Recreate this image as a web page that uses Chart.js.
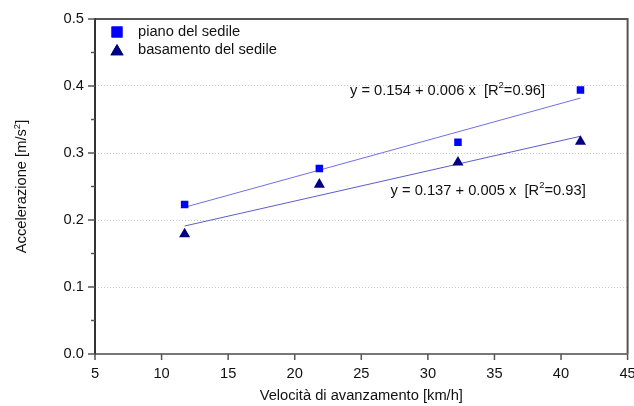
<!DOCTYPE html>
<html><head><meta charset="utf-8">
<script src="https://cdn.jsdelivr.net/npm/chart.js@4/dist/chart.umd.min.js"></script>
<style>html,body{margin:0;padding:0;background:#fff}canvas{display:block}</style>
</head><body>
<canvas id="c" width="634" height="406"></canvas>
<script>
// ---- data ----
const velocita = [11.73, 21.85, 32.26, 41.46];
const pianoSedile = [0.223, 0.277, 0.316, 0.394];
const basamentoSedile = [0.179, 0.253, 0.286, 0.317];
const fitX = [11.73, 41.46];
const fitPiano = [0.219, 0.382];
const fitBasamento = [0.191, 0.325];
const xTicks = [5, 10, 15, 20, 25, 30, 35, 40, 45];
const yTicks = [0.0, 0.1, 0.2, 0.3, 0.4, 0.5];
const seriesLabels = ['piano del sedile', 'basamento del sedile'];
const eqPiano = ['y = 0.154 + 0.006 x  [R', '2', '=0.96]'];
const eqBasamento = ['y = 0.137 + 0.005 x  [R', '2', '=0.93]'];
const xTitle = ['Velocità di avanzamento [km/h]'];
const yTitle = ['Accelerazione [m/s', '2', ']'];

// ---- layout / style ----
const FONT = "'Liberation Sans', Arial, sans-serif";
const FS = 14.7;
const eqAnchors = [{x: 24.15, y: 0.393}, {x: 27.2, y: 0.244}];

const pts = (xs, ys) => xs.map((x, i) => ({x: x, y: ys[i]}));

function drawRich(ctx, parts, x, y, align) {
  const fonts = parts.map((p, i) => (i % 2 === 1) ? '9.5px ' + FONT : FS + 'px ' + FONT);
  let total = 0;
  const widths = parts.map((p, i) => { ctx.font = fonts[i]; const w = ctx.measureText(p).width; total += w; return w; });
  let cx = align === 'center' ? x - total / 2 : x;
  ctx.textAlign = 'left';
  ctx.textBaseline = 'middle';
  parts.forEach((p, i) => {
    ctx.font = fonts[i];
    ctx.fillText(p, cx, (i % 2 === 1) ? y - 5 : y);
    cx += widths[i];
  });
}

const decor = {
  id: 'decor',
  afterDraw(chart) {
    const ctx = chart.ctx;
    const a = chart.chartArea;
    const xs = chart.scales.x, ys = chart.scales.y;
    ctx.save();
    // frame
    ctx.lineWidth = 2;
    ctx.strokeStyle = '#555';
    ctx.beginPath(); ctx.moveTo(a.left, a.top); ctx.lineTo(a.right, a.top); ctx.lineTo(a.right, a.bottom); ctx.stroke();
    ctx.strokeStyle = '#777';
    ctx.beginPath(); ctx.moveTo(a.left, a.bottom); ctx.lineTo(a.right, a.bottom); ctx.stroke();
    ctx.strokeStyle = '#333';
    ctx.beginPath(); ctx.moveTo(a.left, a.top - 1); ctx.lineTo(a.left, a.bottom + 1); ctx.stroke();
    // ticks
    ctx.lineWidth = 1.5;
    ctx.strokeStyle = '#555';
    ctx.beginPath();
    xTicks.forEach(v => { const px = xs.getPixelForValue(v); ctx.moveTo(px, a.bottom); ctx.lineTo(px, a.bottom + 6); });
    yTicks.forEach(v => { const py = ys.getPixelForValue(v); ctx.moveTo(a.left, py); ctx.lineTo(a.left - 7, py); });
    for (let i = 0; i < yTicks.length - 1; i++) {
      const py = ys.getPixelForValue((yTicks[i] + yTicks[i + 1]) / 2);
      ctx.moveTo(a.left, py); ctx.lineTo(a.left - 4, py);
    }
    ctx.stroke();
    // legend
    const ds = chart.data.datasets;
    [0, 1].forEach(i => {
      const cy = a.top + 13 + i * 18;
      const cx = a.left + 22;
      ctx.fillStyle = ds[i].backgroundColor;
      Chart.helpers.drawPoint(ctx, {pointStyle: ds[i].pointStyle, radius: i === 0 ? 7.8 : 7.6, borderWidth: 0, rotation: 0}, cx, i === 0 ? cy : cy + 1.5);
      ctx.fill();
      ctx.fillStyle = '#111';
      ctx.font = FS + 'px ' + FONT;
      ctx.textAlign = 'left'; ctx.textBaseline = 'middle';
      ctx.fillText(seriesLabels[i], a.left + 43, cy);
    });
    // equations
    ctx.fillStyle = '#111';
    drawRich(ctx, eqPiano, xs.getPixelForValue(eqAnchors[0].x), ys.getPixelForValue(eqAnchors[0].y), 'left');
    drawRich(ctx, eqBasamento, xs.getPixelForValue(eqAnchors[1].x), ys.getPixelForValue(eqAnchors[1].y), 'left');
    // axis titles
    drawRich(ctx, xTitle, (a.left + a.right) / 2, 396, 'center');
    ctx.translate(22, (a.top + a.bottom) / 2);
    ctx.rotate(-Math.PI / 2);
    drawRich(ctx, yTitle, 0, 0, 'center');
    ctx.restore();
  }
};

new Chart(document.getElementById('c'), {
  type: 'scatter',
  data: {
    datasets: [
      {label: seriesLabels[0], data: pts(velocita, pianoSedile), pointStyle: 'rect', pointRadius: 5.3, pointHoverRadius: 5.3,
       backgroundColor: '#0000ff', borderColor: '#0000ff', pointBorderWidth: 0, showLine: false, order: 0},
      {label: seriesLabels[1], data: pts(velocita, basamentoSedile), pointStyle: 'triangle', pointRadius: 6.4, pointHoverRadius: 6.4,
       backgroundColor: '#000080', borderColor: '#000080', pointBorderWidth: 0, showLine: false, order: 0},
      {label: 'fit1', data: pts(fitX, fitPiano), showLine: true, pointRadius: 0, borderColor: '#6f6fe8', borderWidth: 1, order: 1},
      {label: 'fit2', data: pts(fitX, fitBasamento), showLine: true, pointRadius: 0, borderColor: '#5c5cc8', borderWidth: 1, order: 1}
    ]
  },
  options: {
    responsive: false,
    animation: false,
    devicePixelRatio: 1,
    layout: {padding: {top: 19, right: 6, left: 0, bottom: 0}},
    plugins: {legend: {display: false}, tooltip: {enabled: false}},
    scales: {
      x: {
        type: 'linear', min: xTicks[0], max: xTicks[xTicks.length - 1],
        afterBuildTicks: s => { s.ticks = xTicks.map(v => ({value: v})); },
        afterFit: s => { s.height = 52; s.paddingLeft = 0; s.paddingRight = 0; },
        grid: {display: false, drawTicks: false},
        border: {display: false},
        ticks: {padding: 11, color: '#111', font: {family: FONT, size: FS}, maxRotation: 0, callback: v => String(v)}
      },
      y: {
        type: 'linear', min: yTicks[0], max: yTicks[yTicks.length - 1],
        afterBuildTicks: s => { s.ticks = yTicks.map(v => ({value: v})); },
        afterFit: s => { s.width = 95; s.paddingTop = 0; s.paddingBottom = 0; },
        grid: {drawTicks: false, lineWidth: 1,
               color: c => (c.tick && c.tick.value > yTicks[0] && c.tick.value < yTicks[yTicks.length - 1]) ? '#c8c8c8' : 'rgba(0,0,0,0)'},
        border: {display: false, dash: [1, 2]},
        ticks: {padding: 11, color: '#111', font: {family: FONT, size: FS}, callback: v => Number(v).toFixed(1)}
      }
    }
  },
  plugins: [decor]
});
</script>
</body></html>
